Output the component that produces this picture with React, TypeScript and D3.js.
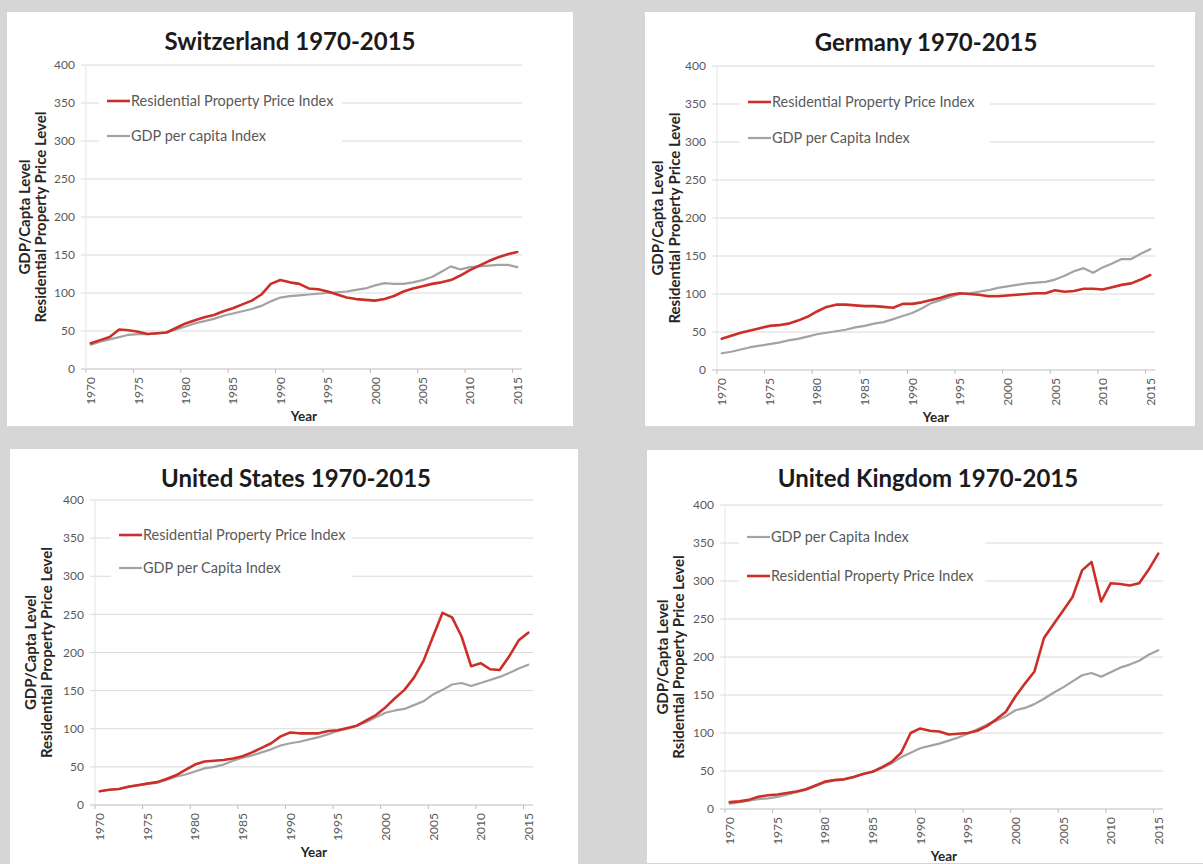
import React from "react";
import * as d3 from "d3";

// Years on the category axis and the labelled ones
const years: number[] = d3.range(1970, 2016);
const yearTicks: string[] = ["1970", "1975", "1980", "1985", "1990", "1995", "2000", "2005", "2010", "2015"];
const valueTicks: number[] = [0, 50, 100, 150, 200, 250, 300, 350, 400];

// Switzerland
const chPrice = [34, 38, 42, 52, 51, 49, 46, 47, 48, 54, 60, 64, 68, 71, 76, 80, 85, 90, 98, 112, 117, 114, 112, 106, 105, 102, 98, 94, 92, 91, 90, 92, 96, 102, 106, 109, 112, 114, 117, 123, 130, 136, 142, 147, 151, 154];
const chGdp = [32, 36, 39, 42, 45, 46, 46, 47, 48, 52, 56, 60, 63, 66, 70, 73, 76, 79, 83, 89, 94, 96, 97, 98, 99, 100, 101, 102, 104, 106, 110, 113, 112, 112, 114, 117, 121, 128, 135, 131, 134, 135, 136, 137, 137, 134];

// Germany
const dePrice = [41, 45, 49, 52, 55, 58, 59, 61, 65, 70, 77, 83, 86, 86, 85, 84, 84, 83, 82, 87, 87, 89, 92, 95, 99, 101, 100, 99, 97, 97, 98, 99, 100, 101, 101, 105, 103, 104, 107, 107, 106, 109, 112, 114, 119, 125];
const deGdp = [22, 24, 27, 30, 32, 34, 36, 39, 41, 44, 47, 49, 51, 53, 56, 58, 61, 63, 67, 71, 75, 81, 88, 92, 96, 100, 101, 103, 105, 108, 110, 112, 114, 115, 116, 119, 124, 130, 134, 128, 135, 140, 146, 146, 153, 159];

// United States
const usPrice = [18, 20, 21, 24, 26, 28, 30, 34, 39, 46, 53, 57, 58, 59, 61, 64, 69, 75, 81, 90, 95, 94, 94, 94, 97, 98, 101, 104, 111, 118, 128, 140, 151, 167, 189, 221, 252, 246, 221, 182, 186, 178, 177, 195, 216, 226];
const usGdp = [18, 20, 21, 24, 26, 28, 29, 33, 37, 40, 44, 48, 50, 53, 58, 62, 65, 69, 73, 78, 81, 83, 86, 89, 93, 97, 100, 104, 109, 115, 121, 124, 126, 131, 136, 145, 151, 158, 160, 156, 160, 164, 168, 173, 179, 184];

// United Kingdom
const ukPrice = [9, 10, 12, 16, 18, 19, 21, 23, 26, 31, 36, 38, 39, 42, 46, 49, 55, 62, 74, 100, 106, 103, 102, 98, 99, 100, 103, 109, 118, 128, 148, 165, 181, 225, 243, 261, 279, 314, 325, 273, 297, 296, 294, 297, 315, 336];
const ukGdp = [7, 9, 11, 13, 14, 16, 19, 22, 25, 30, 35, 38, 39, 42, 46, 49, 54, 60, 68, 74, 80, 83, 86, 90, 94, 99, 105, 111, 116, 122, 130, 133, 138, 145, 153, 160, 168, 176, 179, 174, 180, 186, 190, 195, 203, 209];

const RED = "#cc2f27";
const GREY = "#a3a3a3";
const FONT = "Lato, 'Open Sans', sans-serif";

type Series = { name: string; values: number[]; color: string; width: number };

type PanelSpec = {
  title: string;
  yTitle2: string;
  series: Series[]; // legend order
  drawOrder: number[];
  box: [number, number, number, number]; // x0, y0, x1, y1
  titleX: number;
  titleY: number;
  xL: number;
  xR: number;
  y0: number;
  y400: number;
  legendX: number;
  legendRows: [number, number];
  legendEnd: number;
  yTitleOffsets: [number, number];
};

const priceName = "Residential Property Price Index";

const panels: PanelSpec[] = [
  {
    title: "Switzerland 1970-2015",
    yTitle2: "Residential Property Price Level",
    series: [
      { name: priceName, values: chPrice, color: RED, width: 2.6 },
      { name: "GDP per capita Index", values: chGdp, color: GREY, width: 2.2 },
    ],
    drawOrder: [1, 0],
    box: [7, 12, 573, 426],
    titleX: 290,
    titleY: 50,
    xL: 86,
    xR: 522,
    y0: 369,
    y400: 65,
    legendX: 107,
    legendRows: [101, 136],
    legendEnd: 342,
    yTitleOffsets: [-61, -45],
  },
  {
    title: "Germany 1970-2015",
    yTitle2: "Residential Property Price Level",
    series: [
      { name: priceName, values: dePrice, color: RED, width: 2.6 },
      { name: "GDP per Capita Index", values: deGdp, color: GREY, width: 2.2 },
    ],
    drawOrder: [1, 0],
    box: [645, 12, 1195, 426],
    titleX: 926,
    titleY: 51,
    xL: 717,
    xR: 1155,
    y0: 370,
    y400: 66,
    legendX: 748,
    legendRows: [102, 138],
    legendEnd: 990,
    yTitleOffsets: [-59, -42],
  },
  {
    title: "United States 1970-2015",
    yTitle2: "Residential Property Price Level",
    series: [
      { name: priceName, values: usPrice, color: RED, width: 2.6 },
      { name: "GDP per Capita Index", values: usGdp, color: GREY, width: 2.2 },
    ],
    drawOrder: [1, 0],
    box: [10, 449, 578, 864],
    titleX: 296,
    titleY: 487,
    xL: 95,
    xR: 533,
    y0: 805,
    y400: 500,
    legendX: 119,
    legendRows: [535, 568],
    legendEnd: 352,
    yTitleOffsets: [-64, -48],
  },
  {
    title: "United Kingdom 1970-2015",
    yTitle2: "Rsidential Property Price Level",
    series: [
      { name: "GDP per Capita Index", values: ukGdp, color: GREY, width: 2.2 },
      { name: priceName, values: ukPrice, color: RED, width: 2.6 },
    ],
    drawOrder: [0, 1],
    box: [647, 450, 1203, 863],
    titleX: 928,
    titleY: 487,
    xL: 725,
    xR: 1163,
    y0: 809,
    y400: 505,
    legendX: 747,
    legendRows: [537, 576],
    legendEnd: 985,
    yTitleOffsets: [-62, -46],
  },
];

function Panel({ p }: { p: PanelSpec }) {
  const x = d3.scaleBand<number>().domain(years).range([p.xL, p.xR]).paddingInner(0).paddingOuter(0);
  const bw = x.bandwidth();
  const cx = (yr: number) => (x(yr) as number) + bw / 2;
  const y = d3.scaleLinear().domain([0, 400]).range([p.y0, p.y400]);
  const line = d3
    .line<number>()
    .x((_, i) => cx(years[i]))
    .y((v) => y(v));

  const [bx0, by0, bx1, by1] = p.box;
  const midY = (p.y0 + p.y400) / 2;
  const midX = (p.xL + p.xR) / 2;

  return (
    <g>
      <rect x={bx0} y={by0} width={bx1 - bx0} height={by1 - by0} fill="#ffffff" />
      <text x={p.titleX} y={p.titleY} textAnchor="middle" fontFamily={FONT} fontWeight={700} fontSize={24} fill="#1b1b1b">
        {p.title}
      </text>

      {/* horizontal gridlines */}
      {valueTicks.map((v) => (
        <line key={"g" + v} x1={p.xL - 5} x2={p.xR} y1={y(v)} y2={y(v)} stroke={v === 0 ? "#bdbdbd" : "#dadada"} strokeWidth={1} />
      ))}
      <line x1={p.xL} x2={p.xL} y1={p.y400} y2={p.y0} stroke="#e4e4e4" strokeWidth={1} />

      {/* value axis labels */}
      {valueTicks.map((v) => (
        <text key={"t" + v} x={p.xL - 11} y={y(v)} dy="0.35em" textAnchor="end" fontFamily={FONT} fontSize={12} fill="#5a5a5a">
          {v}
        </text>
      ))}

      {/* category ticks and labels */}
      {yearTicks.map((t) => {
        const yr = +t;
        const tx = x(yr) as number;
        return (
          <g key={"x" + t}>
            <line x1={tx} x2={tx} y1={p.y0} y2={p.y0 + 4} stroke="#bdbdbd" />
            <text
              transform={`translate(${cx(yr) + 4.5},${p.y0 + 8}) rotate(-90)`}
              textAnchor="end"
              fontFamily={FONT}
              fontSize={12}
              fill="#5a5a5a"
            >
              {t}
            </text>
          </g>
        );
      })}

      <text x={midX} y={p.y0 + 52} textAnchor="middle" fontFamily={FONT} fontWeight={700} fontSize={13.5} fill="#262626">
        Year
      </text>

      {/* value axis titles */}
      <text
        transform={`translate(${p.xL + p.yTitleOffsets[0]},${midY}) rotate(-90)`}
        textAnchor="middle"
        dy="0.35em"
        fontFamily={FONT}
        fontWeight={700}
        fontSize={15}
        fill="#262626"
      >
        GDP/Capta Level
      </text>
      <text
        transform={`translate(${p.xL + p.yTitleOffsets[1]},${midY}) rotate(-90)`}
        textAnchor="middle"
        dy="0.35em"
        fontFamily={FONT}
        fontWeight={700}
        fontSize={15}
        fill="#262626"
      >
        {p.yTitle2}
      </text>

      {/* series */}
      {p.drawOrder.map((i) => {
        const s = p.series[i];
        return (
          <path
            key={s.name}
            d={line(s.values) as string}
            fill="none"
            stroke={s.color}
            strokeWidth={s.width}
            strokeLinejoin="round"
            strokeLinecap="round"
          />
        );
      })}

      {/* legend */}
      <rect
        x={p.legendX - 8}
        y={p.legendRows[0] - 14}
        width={p.legendEnd - p.legendX + 8}
        height={p.legendRows[1] - p.legendRows[0] + 28}
        fill="#ffffff"
      />
      {p.series.map((s, i) => (
        <g key={"l" + i}>
          <line
            x1={p.legendX}
            x2={p.legendX + 23}
            y1={p.legendRows[i]}
            y2={p.legendRows[i]}
            stroke={s.color}
            strokeWidth={s.width}
          />
          <text x={p.legendX + 24} y={p.legendRows[i]} dy="0.35em" fontFamily={FONT} fontSize={14.5} fill="#595959">
            {s.name}
          </text>
        </g>
      ))}
    </g>
  );
}

export default function App() {
  return (
    <svg
      width={1203}
      height={864}
      viewBox="0 0 1203 864"
      style={{ position: "absolute", left: 0, top: 0, display: "block" }}
    >
      <rect x={0} y={0} width={1203} height={864} fill="#d6d6d6" />
      {panels.map((p) => (
        <Panel key={p.title} p={p} />
      ))}
    </svg>
  );
}
